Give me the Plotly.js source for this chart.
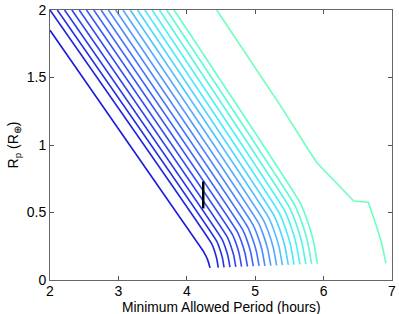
<!DOCTYPE html>
<html>
<head>
<meta charset="utf-8">
<script src="https://cdn.plot.ly/plotly-3.0.1.min.js"></script>
<style>html,body{margin:0;padding:0;background:#fff;}#chart{width:399px;height:314px;}</style>
</head>
<body>
<div id="chart"></div>
<script>
// Each curve: x and y values (top, kink, two tail points, bottom end)
const curveX = [
  [2.000, 4.192, 4.251, 4.304, 4.340],
  [2.000, 4.365, 4.403, 4.437, 4.460],
  [2.107, 4.439, 4.481, 4.520, 4.545],
  [2.213, 4.514, 4.561, 4.603, 4.631],
  [2.320, 4.589, 4.640, 4.686, 4.716],
  [2.427, 4.664, 4.719, 4.768, 4.801],
  [2.534, 4.739, 4.798, 4.851, 4.887],
  [2.640, 4.814, 4.877, 4.934, 4.972],
  [2.747, 4.891, 4.957, 5.017, 5.057],
  [2.854, 4.967, 5.037, 5.100, 5.142],
  [2.960, 5.042, 5.116, 5.183, 5.228],
  [3.067, 5.118, 5.196, 5.266, 5.313],
  [3.174, 5.195, 5.276, 5.349, 5.398],
  [3.280, 5.272, 5.357, 5.433, 5.484],
  [3.387, 5.349, 5.437, 5.516, 5.569],
  [3.494, 5.426, 5.517, 5.599, 5.654],
  [3.601, 5.504, 5.598, 5.683, 5.740],
  [3.707, 5.580, 5.678, 5.766, 5.825],
  [3.814, 5.659, 5.759, 5.850, 5.910]
];
const curveY = [
  [1.85, 0.250, 0.205, 0.151, 0.090],
  [2.00, 0.268, 0.219, 0.159, 0.092],
  [2.00, 0.286, 0.232, 0.166, 0.093],
  [2.00, 0.303, 0.245, 0.174, 0.095],
  [2.00, 0.321, 0.258, 0.182, 0.097],
  [2.00, 0.339, 0.272, 0.190, 0.099],
  [2.00, 0.357, 0.285, 0.198, 0.100],
  [2.00, 0.375, 0.299, 0.206, 0.102],
  [2.00, 0.392, 0.311, 0.213, 0.104],
  [2.00, 0.410, 0.325, 0.221, 0.105],
  [2.00, 0.428, 0.338, 0.229, 0.107],
  [2.00, 0.446, 0.352, 0.237, 0.109],
  [2.00, 0.464, 0.365, 0.245, 0.110],
  [2.00, 0.481, 0.378, 0.252, 0.112],
  [2.00, 0.499, 0.391, 0.260, 0.114],
  [2.00, 0.517, 0.405, 0.268, 0.116],
  [2.00, 0.535, 0.418, 0.276, 0.117],
  [2.00, 0.553, 0.431, 0.284, 0.119],
  [2.00, 0.570, 0.444, 0.291, 0.120]
];
// Separate right-hand curve
const outerX = [4.437, 5.40, 5.78, 5.90, 6.44, 6.653, 6.776, 6.849, 6.912];
const outerY = [2.000, 1.268, 0.963, 0.870, 0.585, 0.576, 0.395, 0.272, 0.124];
// Black vertical marker
const markX = [4.24, 4.24];
const markY = [0.53, 0.73];

const xTicks = [2, 3, 4, 5, 6, 7];
const yTicks = [0, 0.5, 1, 1.5, 2];
const yTickText = ['0', '0.5', '1', '1.5', '2'];
const xTitle = 'Minimum Allowed Period (hours)';
const yTitle = 'R<sub>p</sub> (R<sub>⊕</sub>)';

// colour ramp (style)
const stops = [[0,[28,28,216]],[0.35,[60,90,245]],[0.6,[85,165,255]],[0.78,[70,235,255]],[1,[100,255,200]]];
function rampColor(t){
  for(let k=0;k<stops.length-1;k++){
    const a=stops[k], b=stops[k+1];
    if(t>=a[0] && t<=b[0]){
      const f=(t-a[0])/(b[0]-a[0]);
      const c=a[1].map((v,j)=>Math.round(v+(b[1][j]-v)*f));
      return 'rgb('+c.join(',')+')';
    }
  }
  return 'rgb(100,255,200)';
}

const traces = curveX.map((xs,i)=>({
  x: xs, y: curveY[i], type:'scatter', mode:'lines',
  line:{color: rampColor(i/(curveX.length-1)), width:1.6, shape:'spline', smoothing:0.4},
  hoverinfo:'skip', showlegend:false
}));
traces.push({x: outerX, y: outerY, type:'scatter', mode:'lines',
  line:{color:'rgb(110,255,190)', width:1.6}, hoverinfo:'skip', showlegend:false});
traces.push({x: markX, y: markY, type:'scatter', mode:'lines',
  line:{color:'#000', width:2.5}, hoverinfo:'skip', showlegend:false});

const tickFont = {family:'Liberation Sans, Arial, sans-serif', size:14, color:'#000'};
const titleFont = {family:'Liberation Sans, Arial, sans-serif', size:13.8, color:'#000'};
const layout = {
  width:399, height:314,
  margin:{l:50, r:7, t:10, b:34},
  paper_bgcolor:'#fff', plot_bgcolor:'#fff',
  showlegend:false,
  xaxis:{
    range:[2,7], tickvals:xTicks, ticktext:xTicks.map(String),
    ticks:'inside', ticklen:4, tickcolor:'#555', showgrid:false, zeroline:false,
    showline:true, linecolor:'#666', linewidth:1, mirror:'ticks',
    tickfont:tickFont, ticklabelstandoff:-2
  },
  yaxis:{
    range:[0,2], tickvals:yTicks, ticktext:yTickText,
    ticks:'inside', ticklen:4, tickcolor:'#555', showgrid:false, zeroline:false,
    showline:true, linecolor:'#666', linewidth:1, mirror:'ticks',
    tickfont:tickFont,
    title:{text:yTitle, font:{family:titleFont.family, size:14, color:'#000'}, standoff:4}
  },
  annotations:[{
    text:xTitle, xref:'paper', yref:'paper', x:0.5, y:-0.1,
    xanchor:'center', yanchor:'middle', showarrow:false, font:titleFont
  }]
};
Plotly.newPlot('chart', traces, layout, {staticPlot:true, displayModeBar:false});
</script>
</body>
</html>
